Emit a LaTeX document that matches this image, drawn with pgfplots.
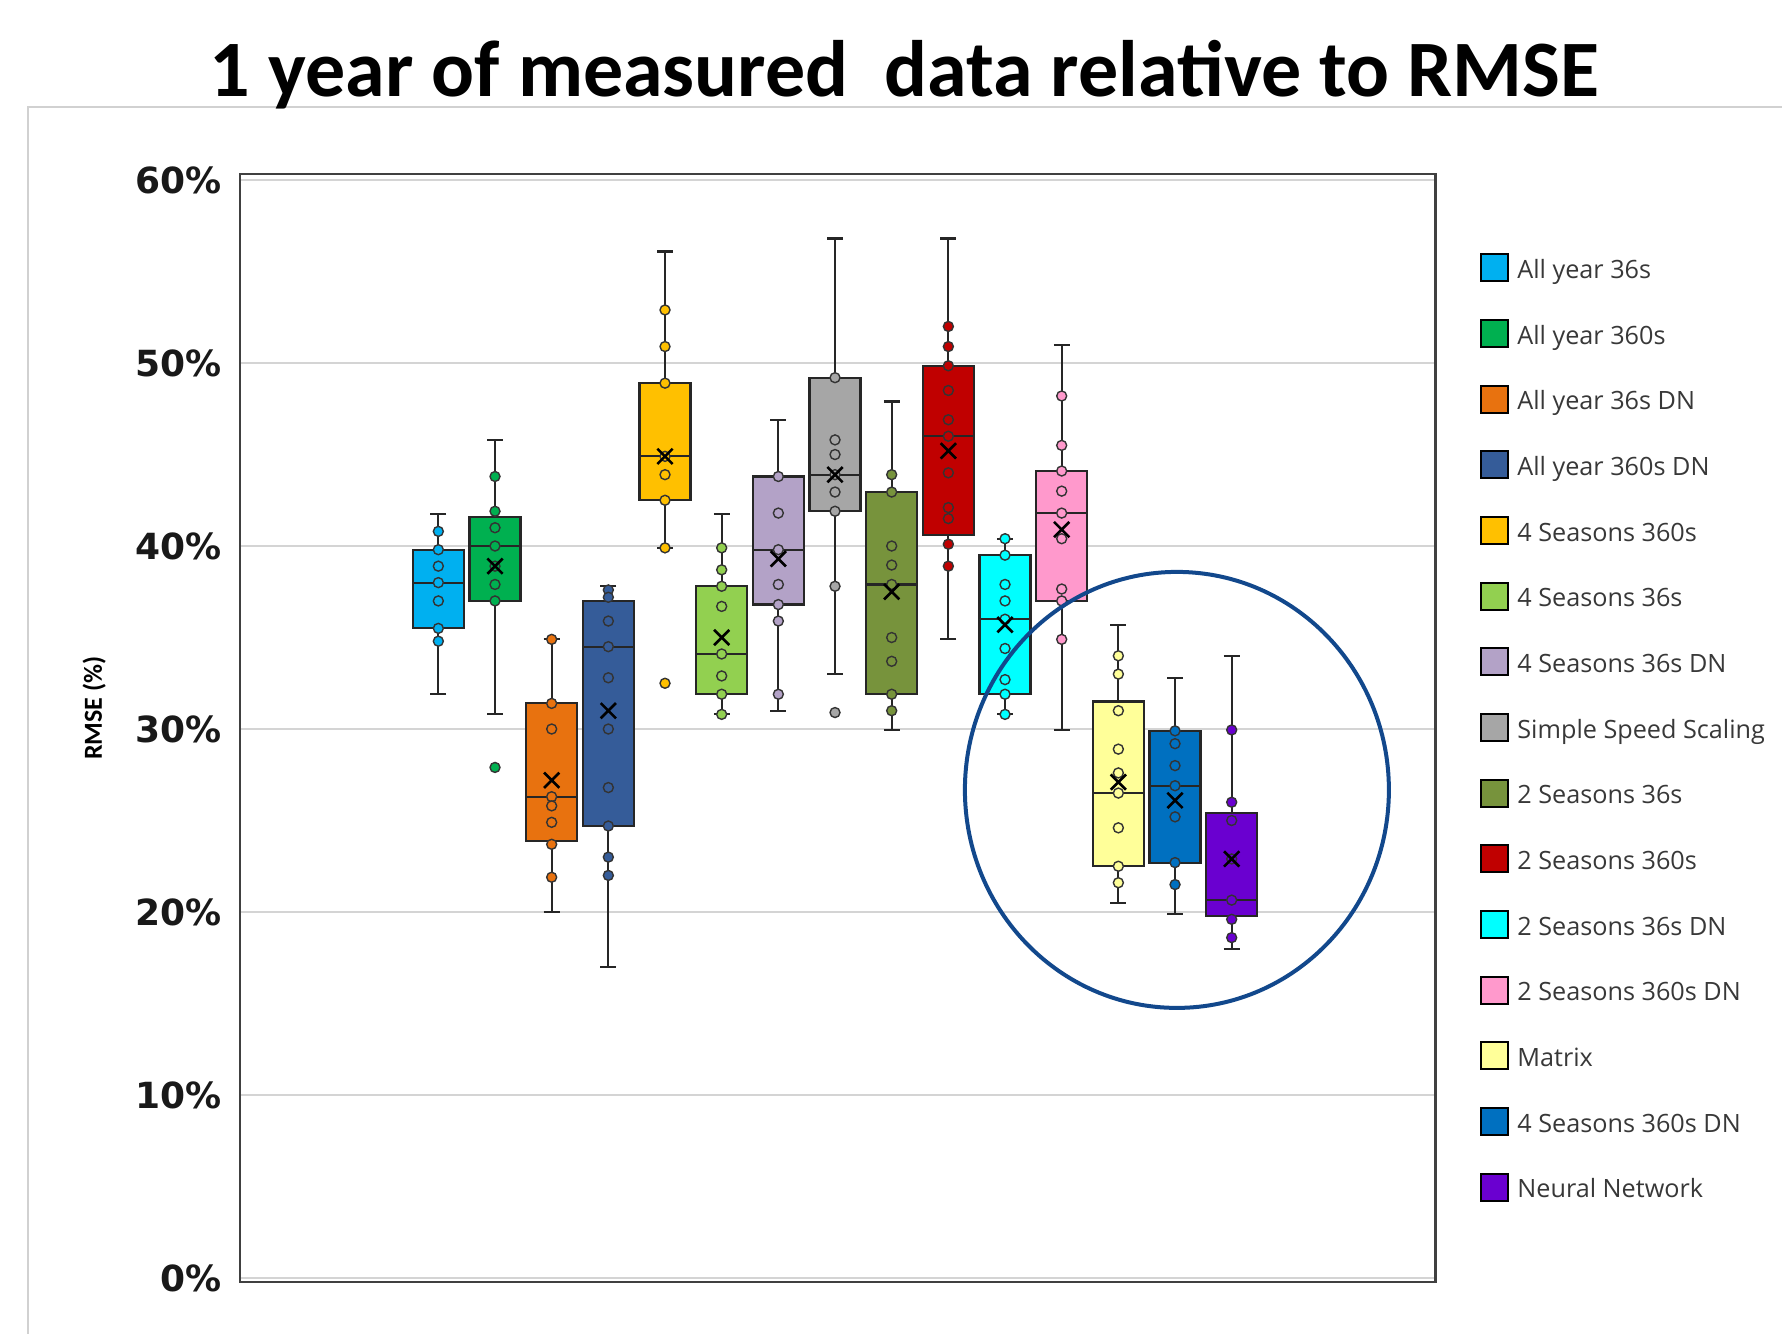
\documentclass[border=0pt]{standalone}
\usepackage{pgfplots}
\pgfplotsset{compat=1.18}
\usepgfplotslibrary{statistics}
\usepackage{fontspec}
\setmainfont{Open Sans}
\newfontfamily\titlefont{Carlito}
\newfontfamily\tickfont{DejaVu Sans}
\definecolor{c1}{HTML}{00B0F0}
\definecolor{c2}{HTML}{00B050}
\definecolor{c3}{HTML}{E8720F}
\definecolor{c4}{HTML}{355C99}
\definecolor{c5}{HTML}{FFC000}
\definecolor{c6}{HTML}{92D050}
\definecolor{c7}{HTML}{B3A2C7}
\definecolor{c8}{HTML}{A6A6A6}
\definecolor{c9}{HTML}{77933C}
\definecolor{c10}{HTML}{C00000}
\definecolor{c11}{HTML}{00FFFF}
\definecolor{c12}{HTML}{FF99CC}
\definecolor{c13}{HTML}{FFFF99}
\definecolor{c14}{HTML}{0070C0}
\definecolor{c15}{HTML}{6A00D0}
\definecolor{ellc}{RGB}{18,72,140}
\pgfplotsset{
  bx/.style={forget plot, draw=black!85, line width=1.1pt, fill=#1},
  pts/.style={forget plot, only marks, mark=*, mark size=2.5pt,
    mark options={fill=#1, draw=black!80, line width=0.7pt}},
  mn/.style={forget plot, only marks, mark=x, mark size=5.4pt,
    mark options={draw=black, line width=1.3pt}},
  legsq/.style={legend image code/.code={\draw[fill=#1,draw=black,line width=1pt] (0pt,-5.3pt) rectangle (13.5pt,8.2pt);}},
}
\begin{document}
\begin{tikzpicture}
\begin{axis}[
  at={(120pt,-641pt)}, anchor=south west,
  scale only axis, width=597.85pt, height=554pt,
  xmin=-2.5, xmax=18.6, ymin=-0.22, ymax=60.33,
  xtick=\empty,
  ytick={0,10,20,30,40,50,60},
  yticklabels={0\%,10\%,20\%,30\%,40\%,50\%,60\%},
  yticklabel style={font=\tickfont\bfseries\fontsize{18}{18}\selectfont, inner sep=0pt, xshift=-9.2pt, text=black!90},
  major tick length=0pt,
  ymajorgrids, major grid style={draw=black!17, line width=1pt},
  axis line style={draw=black!75, line width=1.3pt},
  ylabel={RMSE (\%)},
  ylabel style={font=\titlefont\bfseries\fontsize{13}{13}\selectfont, at={(axis description cs:-0.122,0.518)}, anchor=center},
  legend style={at={(axis description cs:1,1)}, anchor=north west, xshift=22.15pt, yshift=-39.5pt,
    draw=none, fill=none, inner sep=0pt, row sep=16.75pt, column sep=4pt,
    font=\fontsize{12.6}{12.6}\selectfont, text=black!78,
    nodes={inner sep=0pt, text height=11.25pt, text depth=3.5pt}},
  legend cell align=left,
  boxplot/draw direction=y,
  boxplot/box extend=0.9, boxplot/whisker extend=0.28,
]
% 1 All year 36s
\addplot[bx=c1, boxplot prepared={draw direction=y, draw position=1, lower whisker=31.9, lower quartile=35.5, median=38.0, upper quartile=39.8, upper whisker=41.75}] coordinates {};
\addplot[pts=c1] coordinates {(1,40.8) (1,39.8) (1,38.9) (1,38.0) (1,37.0) (1,35.5) (1,34.8)};
% 2 All year 360s
\addplot[bx=c2, boxplot prepared={draw direction=y, draw position=2, lower whisker=30.8, lower quartile=37.0, median=40.0, upper quartile=41.6, upper whisker=45.8}] coordinates {};
\addplot[pts=c2] coordinates {(2,43.8) (2,41.9) (2,41.0) (2,40.0) (2,38.9) (2,37.9) (2,37.0) (2,27.9)};
\addplot[mn] coordinates {(2,38.9)};
% 3 All year 36s DN
\addplot[bx=c3, boxplot prepared={draw direction=y, draw position=3, lower whisker=20.0, lower quartile=23.9, median=26.3, upper quartile=31.4, upper whisker=34.9}] coordinates {};
\addplot[pts=c3] coordinates {(3,34.9) (3,31.4) (3,30.0) (3,26.3) (3,25.8) (3,24.9) (3,23.7) (3,21.9)};
\addplot[mn] coordinates {(3,27.2)};
% 4 All year 360s DN
\addplot[bx=c4, boxplot prepared={draw direction=y, draw position=4, lower whisker=17.0, lower quartile=24.7, median=34.5, upper quartile=37.0, upper whisker=37.8}] coordinates {};
\addplot[pts=c4] coordinates {(4,37.6) (4,37.2) (4,35.9) (4,34.5) (4,32.8) (4,30.0) (4,26.8) (4,24.7) (4,23.0) (4,22.0)};
\addplot[mn] coordinates {(4,31.0)};
% 5 4 Seasons 360s
\addplot[bx=c5, boxplot prepared={draw direction=y, draw position=5, lower whisker=39.9, lower quartile=42.5, median=44.9, upper quartile=48.9, upper whisker=56.1}] coordinates {};
\addplot[pts=c5] coordinates {(5,52.9) (5,50.9) (5,48.9) (5,44.9) (5,43.9) (5,42.5) (5,39.9) (5,32.5)};
\addplot[mn] coordinates {(5,44.9)};
% 6 4 Seasons 36s
\addplot[bx=c6, boxplot prepared={draw direction=y, draw position=6, lower whisker=30.8, lower quartile=31.9, median=34.1, upper quartile=37.8, upper whisker=41.75}] coordinates {};
\addplot[pts=c6] coordinates {(6,39.9) (6,38.7) (6,37.8) (6,36.7) (6,34.1) (6,32.9) (6,31.9) (6,30.8)};
\addplot[mn] coordinates {(6,35.0)};
% 7 4 Seasons 36s DN
\addplot[bx=c7, boxplot prepared={draw direction=y, draw position=7, lower whisker=31.0, lower quartile=36.8, median=39.8, upper quartile=43.8, upper whisker=46.9}] coordinates {};
\addplot[pts=c7] coordinates {(7,43.8) (7,41.8) (7,39.8) (7,37.9) (7,36.8) (7,35.9) (7,31.9)};
\addplot[mn] coordinates {(7,39.3)};
% 8 Simple Speed Scaling
\addplot[bx=c8, boxplot prepared={draw direction=y, draw position=8, lower whisker=33.0, lower quartile=41.9, median=43.9, upper quartile=49.2, upper whisker=56.8}] coordinates {};
\addplot[pts=c8] coordinates {(8,49.2) (8,45.8) (8,45.0) (8,43.9) (8,42.95) (8,41.9) (8,37.8) (8,30.9)};
\addplot[mn] coordinates {(8,43.9)};
% 9 2 Seasons 36s
\addplot[bx=c9, boxplot prepared={draw direction=y, draw position=9, lower whisker=29.95, lower quartile=31.9, median=37.9, upper quartile=42.95, upper whisker=47.9}] coordinates {};
\addplot[pts=c9] coordinates {(9,43.9) (9,42.95) (9,40.0) (9,38.96) (9,37.9) (9,35.0) (9,33.7) (9,31.9) (9,31.0)};
\addplot[mn] coordinates {(9,37.5)};
% 10 2 Seasons 360s
\addplot[bx=c10, boxplot prepared={draw direction=y, draw position=10, lower whisker=34.9, lower quartile=40.6, median=46.0, upper quartile=49.85, upper whisker=56.8}] coordinates {};
\addplot[pts=c10] coordinates {(10,52.0) (10,50.9) (10,49.85) (10,48.5) (10,46.9) (10,46.0) (10,44.0) (10,42.1) (10,41.5) (10,40.1) (10,38.9)};
\addplot[mn] coordinates {(10,45.2)};
% 11 2 Seasons 36s DN
\addplot[bx=c11, boxplot prepared={draw direction=y, draw position=11, lower whisker=30.8, lower quartile=31.9, median=36.0, upper quartile=39.5, upper whisker=40.4}] coordinates {};
\addplot[pts=c11] coordinates {(11,40.4) (11,39.5) (11,37.9) (11,37.0) (11,36.0) (11,34.4) (11,32.7) (11,31.9) (11,30.8)};
\addplot[mn] coordinates {(11,35.7)};
% 12 2 Seasons 360s DN
\addplot[bx=c12, boxplot prepared={draw direction=y, draw position=12, lower whisker=29.95, lower quartile=37.0, median=41.8, upper quartile=44.1, upper whisker=51.0}] coordinates {};
\addplot[pts=c12] coordinates {(12,48.2) (12,45.5) (12,44.1) (12,43.0) (12,41.8) (12,40.4) (12,37.65) (12,37.0) (12,34.9)};
\addplot[mn] coordinates {(12,40.9)};
% 13 Matrix
\addplot[bx=c13, boxplot prepared={draw direction=y, draw position=13, lower whisker=20.5, lower quartile=22.5, median=26.5, upper quartile=31.5, upper whisker=35.7}] coordinates {};
\addplot[pts=c13] coordinates {(13,34.0) (13,33.0) (13,31.0) (13,28.9) (13,27.6) (13,26.5) (13,24.6) (13,22.5) (13,21.6)};
\addplot[mn] coordinates {(13,27.1)};
% 14 4 Seasons 360s DN
\addplot[bx=c14, boxplot prepared={draw direction=y, draw position=14, lower whisker=19.9, lower quartile=22.7, median=26.9, upper quartile=29.9, upper whisker=32.8}] coordinates {};
\addplot[pts=c14] coordinates {(14,29.9) (14,29.2) (14,28.0) (14,26.9) (14,25.2) (14,22.7) (14,21.5)};
\addplot[mn] coordinates {(14,26.1)};
% 15 Neural Network
\addplot[bx=c15, boxplot prepared={draw direction=y, draw position=15, lower whisker=18.0, lower quartile=19.8, median=20.65, upper quartile=25.4, upper whisker=34.0}] coordinates {};
\addplot[pts=c15] coordinates {(15,29.95) (15,26.0) (15,25.0) (15,22.9) (15,20.65) (15,19.6) (15,18.6)};
\addplot[mn] coordinates {(15,22.9)};
% legend
\addlegendimage{legsq=c1}\addlegendentry{All year 36s}
\addlegendimage{legsq=c2}\addlegendentry{All year 360s}
\addlegendimage{legsq=c3}\addlegendentry{All year 36s DN}
\addlegendimage{legsq=c4}\addlegendentry{All year 360s DN}
\addlegendimage{legsq=c5}\addlegendentry{4 Seasons 360s}
\addlegendimage{legsq=c6}\addlegendentry{4 Seasons 36s}
\addlegendimage{legsq=c7}\addlegendentry{4 Seasons 36s DN}
\addlegendimage{legsq=c8}\addlegendentry{Simple Speed Scaling}
\addlegendimage{legsq=c9}\addlegendentry{2 Seasons 36s}
\addlegendimage{legsq=c10}\addlegendentry{2 Seasons 360s}
\addlegendimage{legsq=c11}\addlegendentry{2 Seasons 36s DN}
\addlegendimage{legsq=c12}\addlegendentry{2 Seasons 360s DN}
\addlegendimage{legsq=c13}\addlegendentry{Matrix}
\addlegendimage{legsq=c14}\addlegendentry{4 Seasons 360s DN}
\addlegendimage{legsq=c15}\addlegendentry{Neural Network}
\end{axis}
\begin{scope}[x=0.5pt,y=-0.5pt]
\draw[color=black!18, line width=1.2pt] (28,1345) -- (28,106.7) -- (1795,106.7);
\draw[color=ellc, line width=2pt] (1176.9,789.9) ellipse [x radius=106pt, y radius=109pt];
\node[anchor=base, inner sep=0pt, font=\titlefont\bfseries\fontsize{40}{40}\selectfont] at (904.6,96) {1 year of measured\ \ data relative to RMSE};
\end{scope}
\pgfresetboundingbox
\path[use as bounding box] (0pt,0pt) rectangle (891pt,-666.5pt);
\end{tikzpicture}
\end{document}
